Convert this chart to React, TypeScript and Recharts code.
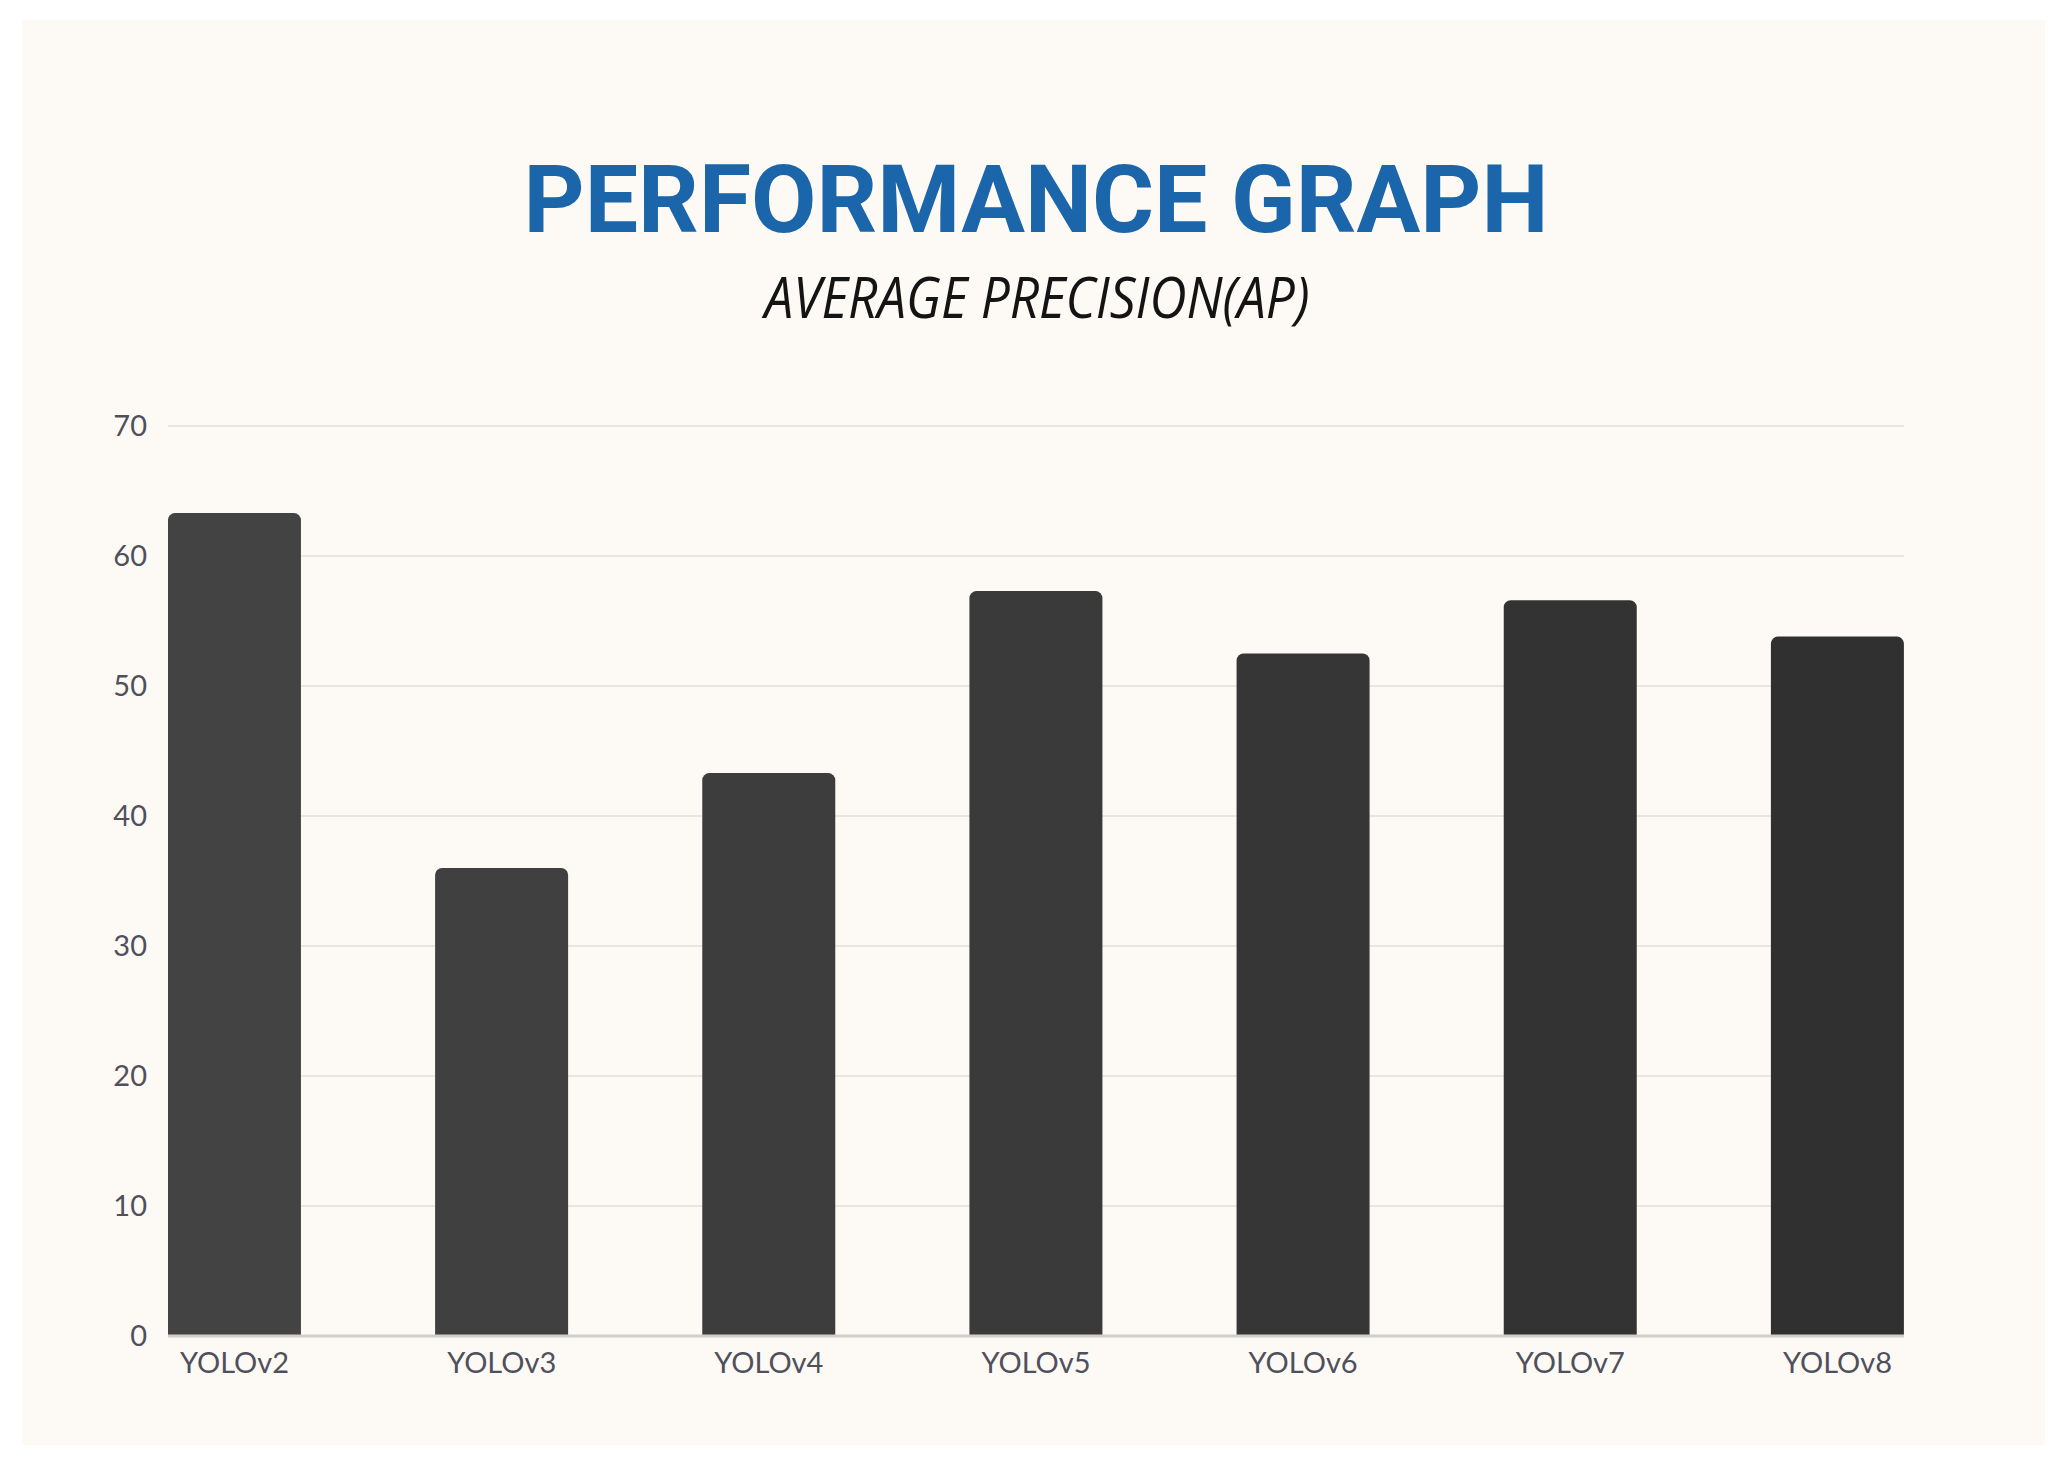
import React from 'react';
import { BarChart, Bar, XAxis, YAxis, CartesianGrid, Cell } from 'recharts';

const categories = ['YOLOv2', 'YOLOv3', 'YOLOv4', 'YOLOv5', 'YOLOv6', 'YOLOv7', 'YOLOv8'];
const apValues = [63.3, 36.0, 43.3, 57.3, 52.5, 56.6, 53.8];
const yTicks = [0, 10, 20, 30, 40, 50, 60, 70];
const xTicks = [0, 1, 2, 3, 4, 5, 6];
const barColors = ['#434343', '#404040', '#3d3d3d', '#3a3a3a', '#363636', '#333333', '#303030'];

const titleText = 'PERFORMANCE GRAPH';
const subtitleText = 'AVERAGE PRECISION(AP)';

const data = categories.map((name, i) => ({ idx: i, name, ap: apValues[i] }));

export default function App() {
  return (
    <div style={{ position: 'absolute', left: 0, top: 0, width: 2060, height: 1467, background: '#ffffff', overflow: 'hidden' }}>
      <div style={{ position: 'absolute', left: 22, top: 20, width: 2023, height: 1425, background: '#fdfaf5' }} />
      <svg width={2060} height={400} style={{ position: 'absolute', left: 0, top: 0 }}>
        <text
          x={1036}
          y={232}
          textAnchor="middle"
          fill="#1b65aa"
          fontFamily="Roboto, 'Open Sans', sans-serif"
          fontWeight={700}
          fontSize={95}
          textLength={1025}
          lengthAdjust="spacingAndGlyphs"
        >
          {titleText}
        </text>
        <text
          x={1037}
          y={318}
          textAnchor="middle"
          fill="#141414"
          fontFamily="'Open Sans', Roboto, sans-serif"
          fontStyle="italic"
          fontSize={56}
          textLength={545}
          lengthAdjust="spacingAndGlyphs"
        >
          {subtitleText}
        </text>
      </svg>
      <div style={{ position: 'absolute', left: 0, top: 0 }}>
        <BarChart
          width={2060}
          height={1467}
          data={data}
          margin={{ top: 426, right: 156, bottom: 51, left: 108 }}
        >
          <CartesianGrid vertical={false} stroke="#e9e6e1" strokeWidth={2} />
          <XAxis
            type="number"
            dataKey="idx"
            domain={[-0.249, 6.249]}
            allowDataOverflow
            ticks={xTicks}
            interval={0}
            tickFormatter={(v: number) => categories[v]}
            tickLine={false}
            tickSize={0}
            tickMargin={16}
            axisLine={{ stroke: '#d2cfca', strokeWidth: 3 }}
            tick={{ fill: '#50505c', fontSize: 29, fontFamily: 'Lato, sans-serif' }}
            height={80}
          />
          <YAxis
            width={60}
            domain={[0, 70]}
            ticks={yTicks}
            interval={0}
            tickLine={false}
            axisLine={false}
            tickSize={0}
            tickMargin={21}
            tick={{ fill: '#50505c', fontSize: 29, fontFamily: 'Lato, sans-serif' }}
          />
          <Bar dataKey="ap" barSize={133} radius={[7, 7, 0, 0]} isAnimationActive={false}>
            {data.map((d, i) => (
              <Cell key={d.name} fill={barColors[i]} />
            ))}
          </Bar>
        </BarChart>
      </div>
    </div>
  );
}
